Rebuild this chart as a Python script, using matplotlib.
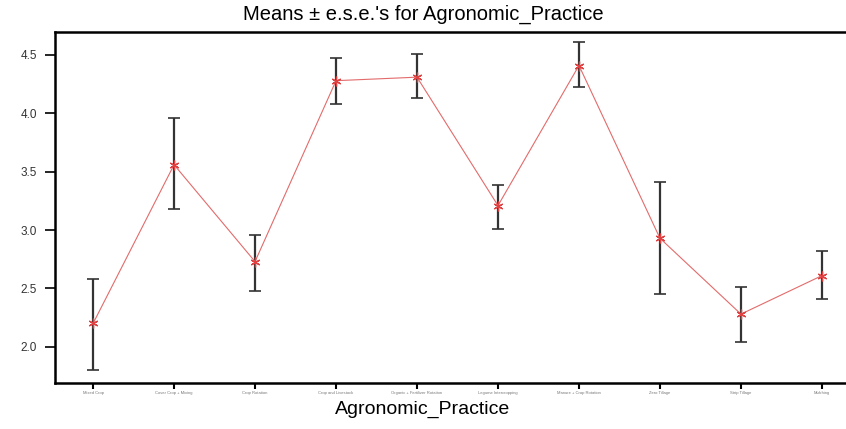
import numpy as np
import matplotlib
matplotlib.use("Agg")
import matplotlib.pyplot as plt

plt.rcParams['font.family'] = ['Liberation Sans', 'DejaVu Sans']

# data
practices = ["Mixed Crop", "Cover Crop + Mixing", "Crop Rotation", "Crop and Livestock",
             "Organic + Fertilizer Rotation", "Legume Intercropping", "Manure + Crop Rotation",
             "Zero Tillage", "Strip Tillage", "Mulching"]
means = [2.20, 3.56, 2.73, 4.28, 4.31, 3.21, 4.41, 2.93, 2.28, 2.61]
upper = [2.58, 3.96, 2.96, 4.47, 4.51, 3.39, 4.61, 3.41, 2.51, 2.82]
lower = [1.80, 3.18, 2.48, 4.08, 4.13, 3.01, 4.23, 2.45, 2.04, 2.41]
yticks = [2.0, 2.5, 3.0, 3.5, 4.0, 4.5]

x = np.arange(1, len(practices) + 1)
means = np.array(means)
err = [means - np.array(lower), np.array(upper) - means]

fig = plt.figure(figsize=(8.46, 4.29), dpi=100)
ax = fig.add_axes([55/846, 1 - 383/429, (860 - 55)/846, (383 - 32)/429])

ax.errorbar(x, means, yerr=err, fmt='none', ecolor='#333333', elinewidth=1.6,
            capsize=4, capthick=1.2, zorder=2)
ax.plot(x, means, color='#e36b6b', lw=0.8, marker=(6, 2, 0), ms=7, mew=0.9,
        mec='#e0403f', zorder=3)

ax.set_xlim(0.53, 10.47)
ax.set_ylim(1.69, 4.697)
ax.set_yticks(yticks)
ax.set_yticklabels([f"{v:.1f}" for v in yticks], fontsize=8.5, color='#333333')
ax.set_xticks(x)
ax.set_xticklabels(practices, fontsize=3, color='#777777')
ax.tick_params(axis='y', length=7, width=1.2, pad=6)
ax.tick_params(axis='x', length=4, width=1.5, pad=1.5)
for s in ax.spines.values():
    s.set_linewidth(1.8)

fig.text(423/846, 1 - 414/429, "Agronomic_Practice", ha='center', va='baseline',
         fontsize=14)
fig.text(423/846, 1 - 20/429, "Means \u00b1 e.s.e.'s for Agronomic_Practice",
         ha='center', va='baseline', fontsize=14.5)

fig.savefig("out.png", dpi=100)
